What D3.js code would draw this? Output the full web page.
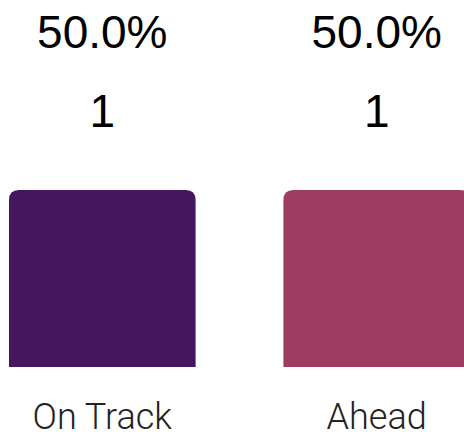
<!DOCTYPE html>
<html>
<head>
<meta charset="utf-8">
<script src="https://cdn.jsdelivr.net/npm/d3@7"></script>
<style>
  body { margin: 0; background: #fff; }
</style>
</head>
<body>
<div id="chart"></div>
<script>
// chart data
var categories = ["On Track", "Ahead"];
var counts = [1, 1];
var colors = ["#43165e", "#9e3d62"];

var width = 464, height = 432;
var total = d3.sum(counts);

var data = categories.map(function(c, i) {
  return { label: c, count: counts[i], pct: counts[i] / total, color: colors[i] };
});

var svg = d3.select("#chart").append("svg")
    .attr("width", width)
    .attr("height", height);

// scales
var x = d3.scaleBand()
    .domain(categories)
    .range([9, 470])
    .paddingInner(0.32)
    .paddingOuter(0);

var y = d3.scaleLinear()
    .domain([0, d3.max(counts)])
    .range([367, 190]);

var r = 10;

function topRounded(x0, y0, w, h, rad) {
  return "M" + x0 + "," + (y0 + h) +
    "V" + (y0 + rad) +
    "Q" + x0 + "," + y0 + " " + (x0 + rad) + "," + y0 +
    "H" + (x0 + w - rad) +
    "Q" + (x0 + w) + "," + y0 + " " + (x0 + w) + "," + (y0 + rad) +
    "V" + (y0 + h) + "Z";
}

// bars
svg.selectAll(".bar")
    .data(data)
  .enter().append("path")
    .attr("class", "bar")
    .attr("fill", function(d) { return d.color; })
    .attr("d", function(d) {
      return topRounded(x(d.label), y(d.count), x.bandwidth(), y(0) - y(d.count), r);
    });

var fmt = d3.format(".1%");

// percentage labels
svg.selectAll(".pct")
    .data(data)
  .enter().append("text")
    .attr("class", "pct")
    .attr("x", function(d) { return x(d.label) + x.bandwidth() / 2; })
    .attr("y", 48)
    .attr("text-anchor", "middle")
    .style("font-family", "'Liberation Sans', Arial, sans-serif")
    .style("font-size", "46px")
    .style("fill", "#000")
    .text(function(d) { return fmt(d.pct); });

// count labels
svg.selectAll(".count")
    .data(data)
  .enter().append("text")
    .attr("class", "count")
    .attr("x", function(d) { return x(d.label) + x.bandwidth() / 2; })
    .attr("y", 127)
    .attr("text-anchor", "middle")
    .style("font-family", "'Liberation Sans', Arial, sans-serif")
    .style("font-size", "46px")
    .style("fill", "#000")
    .text(function(d) { return d.count; });

// category labels
svg.selectAll(".cat")
    .data(data)
  .enter().append("text")
    .attr("class", "cat")
    .attr("x", function(d) { return x(d.label) + x.bandwidth() / 2; })
    .attr("y", 429)
    .attr("text-anchor", "middle")
    .style("font-family", "Roboto, sans-serif")
    .style("font-weight", 300)
    .style("font-size", "36px")
    .style("fill", "#222")
    .text(function(d) { return d.label; });
</script>
</body>
</html>
